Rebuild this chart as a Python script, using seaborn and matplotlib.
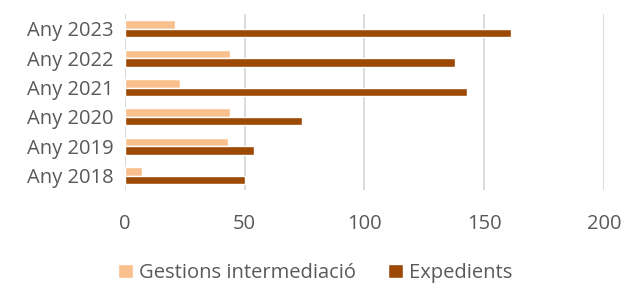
import pandas as pd
import seaborn as sns
import matplotlib.pyplot as plt

# values
years = ['Any 2023', 'Any 2022', 'Any 2021', 'Any 2020', 'Any 2019', 'Any 2018']
gestions = [21, 44, 23, 44, 43, 7]
expedients = [161, 138, 143, 74, 54, 50]
series = ['Gestions intermediació', 'Expedients']
colors = ['#F9C08E', '#9C4A06']

df = pd.DataFrame({
    'Any': years * 2,
    'Serie': [series[0]] * len(years) + [series[1]] * len(years),
    'Valor': gestions + expedients,
})

sns.set_style('white')
plt.rcParams['font.family'] = ['Open Sans', 'DejaVu Sans']

fig, ax = plt.subplots(figsize=(6.24, 2.84), dpi=100)
fig.subplots_adjust(left=0.2, right=0.968, top=0.95, bottom=0.33)

sns.barplot(data=df, x='Valor', y='Any', hue='Serie', orient='h',
            palette=colors, width=0.58, ax=ax, saturation=1)

ax.set_xlim(0, 200)
ax.set_xticks([0, 50, 100, 150, 200])
ax.xaxis.grid(True, color='#D9D9D9', linewidth=1.3)
ax.set_axisbelow(True)
for s in ax.spines.values():
    s.set_visible(False)
ax.set_xlabel('')
ax.set_ylabel('')
ax.tick_params(axis='both', length=0, labelsize=14.5, labelcolor='#595959')
ax.tick_params(axis='x', pad=17)
ax.tick_params(axis='y', pad=8)

ax.legend(loc='center', bbox_to_anchor=(0.397, -0.47), ncol=2, frameon=False,
          fontsize=14.5, labelcolor='#595959', handlelength=0.75, handleheight=0.75,
          handletextpad=0.3, columnspacing=1.6, borderaxespad=0, borderpad=0)

plt.savefig('out.png', dpi=100)
